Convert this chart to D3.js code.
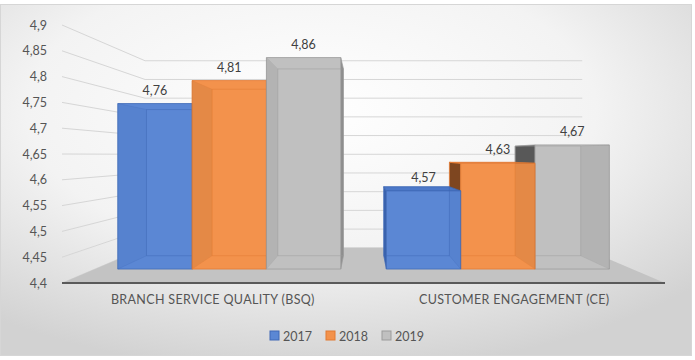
<!DOCTYPE html>
<html>
<head>
<meta charset="utf-8">
<script src="https://cdn.jsdelivr.net/npm/d3@7"></script>
<style>
  body { margin: 0; background: #fff; }
  svg { display: block; font-family: Lato, "Open Sans", sans-serif; }
</style>
</head>
<body>
<svg id="chart" width="695" height="360"></svg>
<script>
// data
const categories = ["BRANCH SERVICE QUALITY (BSQ)", "CUSTOMER ENGAGEMENT (CE)"];
const years = ["2017", "2018", "2019"];
const values2017 = [4.76, 4.57];
const values2018 = [4.81, 4.63];
const values2019 = [4.86, 4.67];
const yTicks = [4.4, 4.45, 4.5, 4.55, 4.6, 4.65, 4.7, 4.75, 4.8, 4.85, 4.9];

const seriesValues = [values2017, values2018, values2019];

// colours per series: front, left side, right side, top, edge
const palette = [
	{ front: "#5b87d4", left: "#3a63ad", right: "#4a74c2", top: "#4c78c8", edge: "#4069b6" },
	{ front: "#f3924c", left: "#7e4620", right: "#d9783a", top: "#e9894a", edge: "#e27a32" },
	{ front: "#c0c0c0", left: "#585858", right: "#8e8e8e", top: "#cdcdcd", edge: "#9c9c9c" }
];

const svg = d3.select("#chart");

// the 3d look: front plane coords get pulled toward a vanishing point
const VP = [364, 155];
const tFront = 0.109, tBack = 0.213, tWall = 0.275;
const P = (fx, fy, t) => [fx + (VP[0] - fx) * t, fy + (VP[1] - fy) * t];

const x0 = d3.scaleBand().domain(categories).range([62, 665])
	.paddingInner(0.17).paddingOuter(0.085);
const x1 = d3.scaleBand().domain(years).range([0, x0.bandwidth()]);
const y = d3.scaleLinear().domain([4.4, 4.9]).range([283, 25]);

const locale = d3.formatLocale({ decimal: ",", thousands: ".", grouping: [3], currency: ["", ""] });
const fmt = locale.format(".3~r");

// background
const defs = svg.append("defs");
const grad = defs.append("radialGradient").attr("id", "bg")
	.attr("cx", "45%").attr("cy", "30%").attr("r", "75%");
grad.append("stop").attr("offset", "0%").attr("stop-color", "#ffffff");
grad.append("stop").attr("offset", "55%").attr("stop-color", "#f3f3f3");
grad.append("stop").attr("offset", "100%").attr("stop-color", "#d2d2d2");

svg.append("rect").attr("x", 0.5).attr("y", 4.5).attr("width", 691).attr("height", 351)
	.attr("fill", "url(#bg)").attr("stroke", "#d6d6d6");

const line = d3.line();

// gridlines: left wall + back wall
const grid = svg.append("g").attr("fill", "none").attr("stroke", "#d6d6d6").attr("stroke-width", 1);
yTicks.forEach(v => {
	grid.append("path").attr("d", line([P(62, y(v), 0), P(62, y(v), tWall), P(665, y(v), tWall)]));
});

// floor
const fb = y(4.4);
svg.append("path")
	.attr("d", line([P(62, fb, 0), P(665, fb, 0), P(665, fb, tWall), P(62, fb, tWall)]) + "Z")
	.attr("fill", "#c3c3c3");
svg.append("path").attr("d", line([P(62, fb, 0), P(665, fb, 0)]))
	.attr("stroke", "#5a5a5a").attr("stroke-width", 2);

// y axis labels (front plane)
const yAxis = svg.append("g").attr("transform", "translate(62,0)")
	.call(d3.axisLeft(y).tickValues(yTicks).tickSize(0).tickPadding(15).tickFormat(fmt));
yAxis.select(".domain").remove();
yAxis.selectAll("text").attr("fill", "#555").style("font-size", "12.5px")
	.style("font-family", "Lato, sans-serif");

// category labels
const xAxis = svg.append("g").attr("transform", "translate(0,287)")
	.call(d3.axisBottom(x0).tickSize(0).tickPadding(8));
xAxis.select(".domain").remove();
xAxis.selectAll("text").attr("fill", "#555").style("font-size", "12.5px")
	.style("letter-spacing", "0.35px")
	.style("font-family", "Lato, sans-serif");

// build bars
const bars = [];
categories.forEach((cat, i) => {
	years.forEach((yr, j) => {
		const fl = x0(cat) + x1(yr), fr = fl + x1.bandwidth();
		bars.push({ cat, yr, j, value: seriesValues[j][i], fl, fr });
	});
});
// paint the ones furthest from the vanishing point first
bars.sort((a, b) => Math.abs((b.fl + b.fr) / 2 - VP[0]) - Math.abs((a.fl + a.fr) / 2 - VP[0]));

const barG = svg.append("g");
bars.forEach(b => {
	const c = palette[b.j];
	const ft = y(b.value);
	const F = [P(b.fl, ft, tFront), P(b.fr, ft, tFront), P(b.fr, fb, tFront), P(b.fl, fb, tFront)];
	const B = [P(b.fl, ft, tBack), P(b.fr, ft, tBack), P(b.fr, fb, tBack), P(b.fl, fb, tBack)];
	const g = barG.append("g");

	// visible side faces
	if (F[0][0] > VP[0]) {
		g.append("path").attr("d", line([F[0], B[0], B[3], F[3]]) + "Z")
			.attr("fill", c.left).attr("stroke", c.edge).attr("stroke-width", 0.6);
	}
	if (F[1][0] < VP[0]) {
		g.append("path").attr("d", line([F[1], B[1], B[2], F[2]]) + "Z")
			.attr("fill", c.right).attr("stroke", c.edge).attr("stroke-width", 0.6);
	}
	if (F[0][1] > VP[1]) {
		g.append("path").attr("d", line([F[0], F[1], B[1], B[0]]) + "Z")
			.attr("fill", c.top).attr("stroke", c.edge).attr("stroke-width", 0.6);
	}

	// front face
	g.append("path").attr("d", line(F) + "Z")
		.attr("fill", c.front).attr("stroke", c.edge).attr("stroke-width", 0.8);

	// hidden faces seen through the slightly transparent front
	if (F[0][0] < VP[0]) {
		g.append("path").attr("d", line([F[0], B[0], B[3], F[3]]) + "Z")
			.attr("fill", c.left).attr("fill-opacity", 0.12);
	}
	if (F[1][0] > VP[0]) {
		g.append("path").attr("d", line([F[1], B[1], B[2], F[2]]) + "Z")
			.attr("fill", c.left).attr("fill-opacity", 0.12);
	}
	g.append("path").attr("d", line(B) + "Z")
		.attr("fill", "none").attr("stroke", c.edge).attr("stroke-opacity", 0.55).attr("stroke-width", 0.9);
	[0, 1, 2, 3].forEach(k => {
		g.append("path").attr("d", line([F[k], B[k]]))
			.attr("stroke", c.edge).attr("stroke-opacity", 0.3).attr("stroke-width", 0.8);
	});

	b.labelX = (F[0][0] + F[1][0]) / 2;
	b.labelY = F[0][1] - 9;
});

// data labels
svg.append("g").selectAll("text").data(bars).join("text")
	.attr("x", d => d.labelX).attr("y", d => d.labelY)
	.attr("text-anchor", "middle").attr("fill", "#404040")
	.style("font-size", "12.5px")
	.text(d => fmt(d.value));

// legend
const legend = svg.append("g").attr("transform", "translate(270,331)");
years.forEach((yr, j) => {
	const lg = legend.append("g").attr("transform", `translate(${j * 56},0)`);
	lg.append("rect").attr("width", 9).attr("height", 9)
		.attr("fill", palette[j].front).attr("stroke", palette[j].edge);
	lg.append("text").attr("x", 13).attr("y", 9.5).attr("fill", "#555")
		.style("font-size", "12.5px").text(yr);
});
</script>
</body>
</html>
